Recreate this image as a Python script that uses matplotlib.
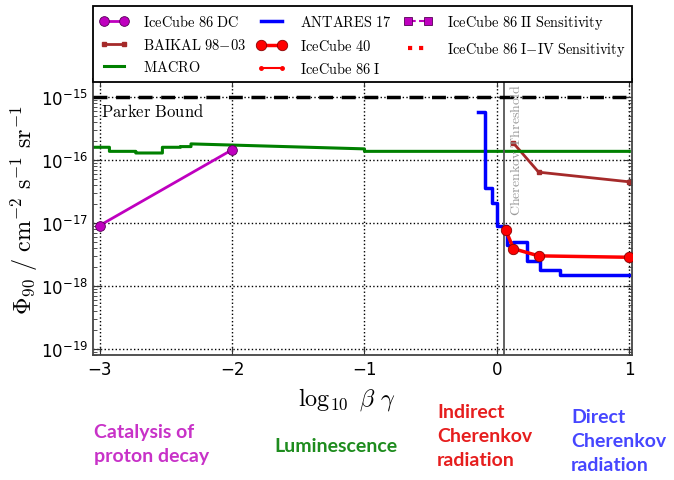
import numpy as np
import matplotlib
matplotlib.use('Agg')
import matplotlib.pyplot as plt
from matplotlib.font_manager import FontProperties

# log10(beta*gamma) and 90% flux limits (cm^-2 s^-1 sr^-1)
parker_bound = 1e-15

dc_x = [-3.0, -2.0]
dc_y = [9.1e-18, 1.45e-16]

baikal_x = [0.125, 0.315, 0.998]
baikal_y = [1.85e-16, 6.4e-17, 4.5e-17]

macro_x = [-3.05, -2.926, -2.926, -2.727, -2.727, -2.526, -2.526, -2.39, -2.39, -2.31, -2.31, -1.0, -1.0, 1.0]
macro_y = [1.59e-16, 1.59e-16, 1.37e-16, 1.37e-16, 1.29e-16, 1.29e-16, 1.59e-16, 1.59e-16, 1.63e-16, 1.63e-16,
           1.80e-16, 1.50e-16, 1.37e-16, 1.37e-16]

antares_edges = [-0.146, -0.09, -0.035, 0.0, 0.073, 0.123, 0.224, 0.325, 0.475, 1.0]
antares_vals = [5.8e-16, 3.6e-17, 2.1e-17, 9.0e-18, 4.4e-18, 4.9e-18, 2.5e-18, 1.8e-18, 1.5e-18]

ic40_x = [0.068, 0.125, 0.315, 0.998]
ic40_y = [7.6e-18, 3.9e-18, 3.0e-18, 2.85e-18]

# entries that only show up in the legend
ic86_x, ic86_y = [], []
ic86II_x, ic86II_y = [], []
ic86IV_x, ic86IV_y = [], []

cherenkov_threshold = 0.055

region_labels = ['Catalysis of\nproton decay', 'Luminescence', 'Indirect\nCherenkov\nradiation',
                 'Direct\nCherenkov\nradiation']
region_colors = ['#c832c8', '#1e8c1e', '#e61e1e', '#4646ff']
region_pos = [(94, 424), (274, 438), (437, 404), (571, 409)]  # pixel (left, top)


W, H = 674, 481
fig = plt.figure(figsize=(W / 100, H / 100), dpi=100)
ax = fig.add_axes([93 / W, 1 - 356 / H, (632 - 93) / W, (356 - 80) / H])

cm = dict(math_fontfamily='cm')

ax.axhline(parker_bound, color='k', ls=(0, (4, 2.5)), lw=2.5, zorder=3)
ax.text(-2.99, 8.3e-16, r'$\mathrm{Parker\ Bound}$', va='top', ha='left', fontsize=12, **cm)

ax.plot(dc_x, dc_y, color='m', lw=2, marker='o', ms=7, mec='#550055', mew=0.6,
        label=r'$\mathrm{IceCube\ 86\ DC}$', zorder=4)
ax.plot(baikal_x, baikal_y, color='#a52a2a', lw=2, marker='s', ms=2.5,
        label=r'$\mathrm{BAIKAL\ 98{-}03}$')
ax.plot(macro_x, macro_y, color='g', lw=2.2, label=r'$\mathrm{MACRO}$')
ax.step(antares_edges, antares_vals + antares_vals[-1:], where='post', color='b', lw=2.5,
        label=r'$\mathrm{ANTARES\ 17}$')
ax.plot(ic40_x, ic40_y, color='r', lw=2.5, marker='o', ms=7.5, mec='#880000', mew=0.6,
        label=r'$\mathrm{IceCube\ 40}$', zorder=5)
ax.plot(ic86_x, ic86_y, color='r', lw=1.5, marker='.', ms=5, label=r'$\mathrm{IceCube\ 86\ I}$')
ax.plot(ic86II_x, ic86II_y, color='m', ls='--', lw=1.5, marker='s', ms=6, mec='#550055', mew=0.6,
        label=r'$\mathrm{IceCube\ 86\ II\ Sensitivity}$')
ax.plot(ic86IV_x, ic86IV_y, color='r', ls=':', lw=3, label=r'$\mathrm{IceCube\ 86\ I{-}IV\ Sensitivity}$')

ax.axvline(cherenkov_threshold, color='#555555', lw=1.3)
ax.text(0.143, 1.67e-15, r'$\mathrm{Cherenkov\ Threshold}$', rotation=90, va='top', ha='center',
        color='#999999', fontsize=10, **cm)

ax.set_yscale('log')
ax.set_xlim(-3.05, 1.02)
ax.set_ylim(8e-20, 1.93e-15)
ax.set_xticks([-3, -2, -1, 0, 1])
ax.grid(True, which='major', ls=':', color='k', lw=1)
ax.tick_params(which='both', direction='in', top=True, right=True, labelsize=12, colors='#333333',
               labelcolor='k')
ax.tick_params(which='major', length=6)
ax.tick_params(which='minor', length=3)
for s in ax.spines.values():
    s.set_color('#444444')
    s.set_linewidth(1.3)

ax.set_ylabel(r'$\Phi_{90}\ /\ \mathrm{cm}^{-2}\ \mathrm{s}^{-1}\ \mathrm{sr}^{-1}$', fontsize=17.5, **cm)
ax.yaxis.set_label_coords(-(93 - 40) / 539, (356 - 210) / 276)
ax.set_xlabel(r'$\log_{10}\ \beta\ \gamma$', fontsize=17.5, **cm)
ax.xaxis.set_label_coords((347 - 93) / 539, -(386 - 356) / 276)

leg = fig.legend(*ax.get_legend_handles_labels(), ncol=3, loc='upper left',
                 bbox_to_anchor=(93 / W, 1 - 74 / H, (632 - 93) / W, (74 - 7) / H), mode='expand',
                 prop=FontProperties(size=10.4, math_fontfamily='cm'), numpoints=2,
                 handlelength=2.0, handletextpad=1.0, labelspacing=0.5, borderaxespad=0,
                 borderpad=0.45, fancybox=False, framealpha=1, edgecolor='k')
leg.get_frame().set_linewidth(1.3)

for lab, col, (px, py) in zip(region_labels, region_colors, region_pos):
    fig.text(px / W, 1 - py / H, lab, color=col, fontsize=14, family='Lato', weight='bold',
             va='top', ha='left', linespacing=1.5)

fig.savefig('out.png', dpi=100)
